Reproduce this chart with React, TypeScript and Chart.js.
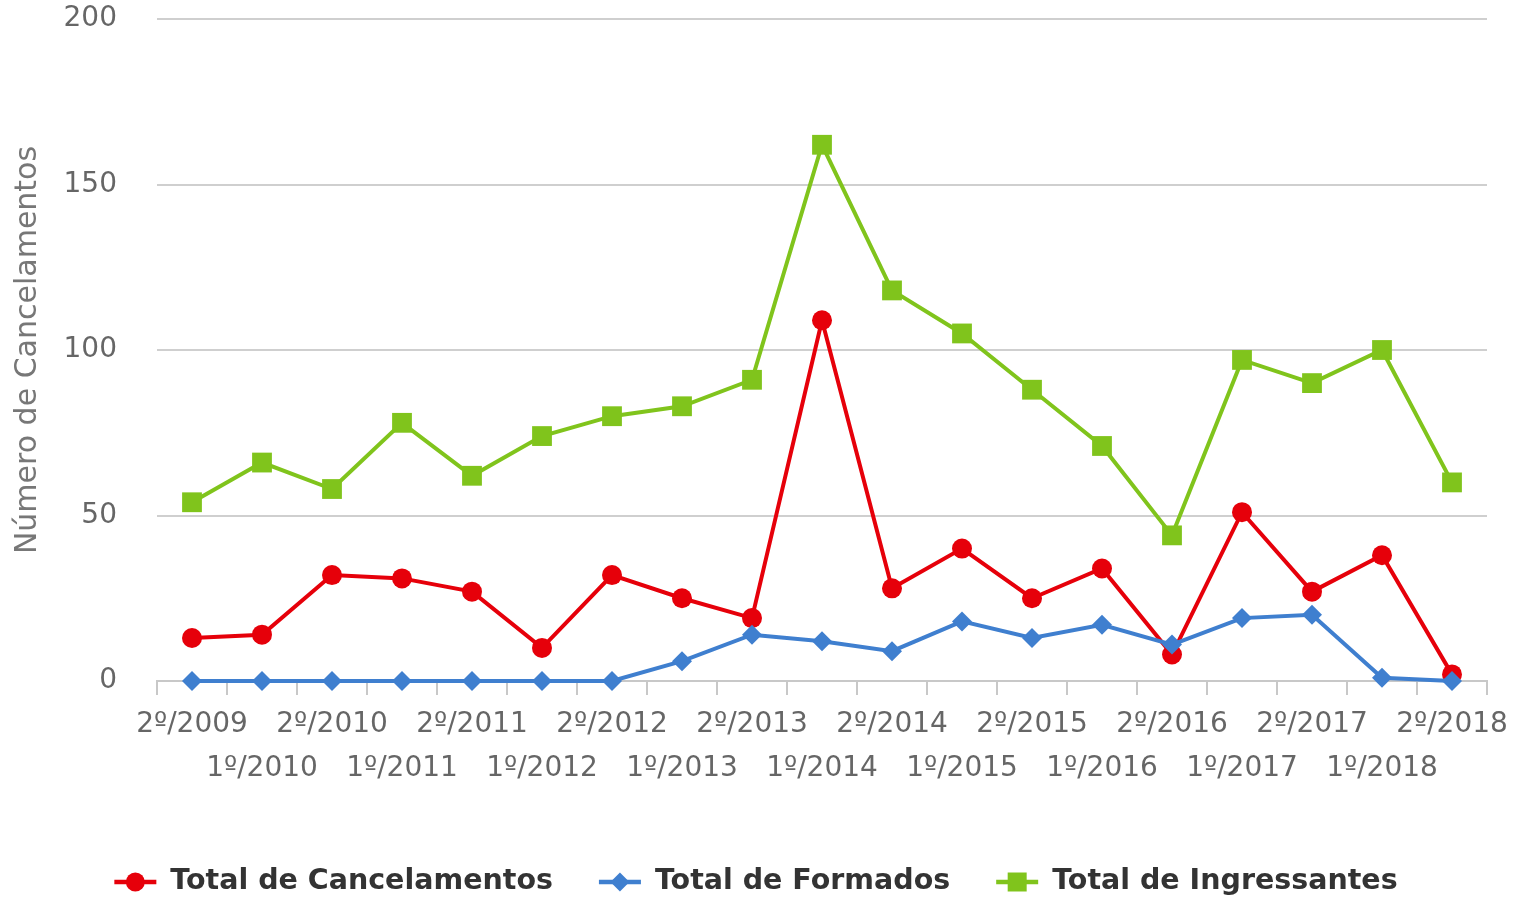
import React, { useEffect, useRef } from 'react';
import { Chart, registerables } from 'chart.js';

Chart.register(...registerables);

const categories = [
  '2º/2009', '1º/2010', '2º/2010', '1º/2011', '2º/2011', '1º/2012', '2º/2012',
  '1º/2013', '2º/2013', '1º/2014', '2º/2014', '1º/2015', '2º/2015', '1º/2016',
  '2º/2016', '1º/2017', '2º/2017', '1º/2018', '2º/2018',
];
const cancelamentos = [13, 14, 32, 31, 27, 10, 32, 25, 19, 109, 28, 40, 25, 34, 8, 51, 27, 38, 2];
const formados = [0, 0, 0, 0, 0, 0, 0, 6, 14, 12, 9, 18, 13, 17, 11, 19, 20, 1, 0];
const ingressantes = [54, 66, 58, 78, 62, 74, 80, 83, 91, 162, 118, 105, 88, 71, 44, 97, 90, 100, 60];
const yMin = 0;
const yMax = 200;
const yStep = 50;
const yTitle = 'Número de Cancelamentos';

const RED = '#e6000a';
const BLUE = '#3f7fcf';
const GREEN = '#80c41c';
const FONT = "'DejaVu Sans', sans-serif";

const series = [
  { label: 'Total de Cancelamentos', data: cancelamentos, color: RED, style: 'circle', radius: 10, order: 3 },
  { label: 'Total de Formados', data: formados, color: BLUE, style: 'rectRot', radius: 10, order: 2 },
  { label: 'Total de Ingressantes', data: ingressantes, color: GREEN, style: 'rect', radius: 14, order: 1 },
];

const legendPlugin = {
  id: 'customLegend',
  afterDraw(chart: any) {
    const ctx = chart.ctx;
    ctx.save();
    ctx.font = `bold 28.5px ${FONT}`;
    const symW = 42;
    const symGap = 14;
    const itemGap = 46;
    const widths = series.map((s) => symW + symGap + ctx.measureText(s.label).width);
    const total = widths.reduce((a, b) => a + b, 0) + itemGap * (series.length - 1);
    let x = 756 - total / 2;
    const y = 882;
    series.forEach((s, i) => {
      ctx.strokeStyle = s.color;
      ctx.lineWidth = 4.5;
      ctx.beginPath();
      ctx.moveTo(x, y);
      ctx.lineTo(x + symW, y);
      ctx.stroke();
      ctx.fillStyle = s.color;
      const cx = x + symW / 2;
      ctx.beginPath();
      if (s.style === 'circle') {
        ctx.arc(cx, y, 9.5, 0, Math.PI * 2);
      } else if (s.style === 'rectRot') {
        ctx.moveTo(cx, y - 9.5);
        ctx.lineTo(cx + 9.5, y);
        ctx.lineTo(cx, y + 9.5);
        ctx.lineTo(cx - 9.5, y);
        ctx.closePath();
      } else {
        ctx.rect(cx - 9.5, y - 9.5, 19, 19);
      }
      ctx.fill();
      ctx.fillStyle = '#333333';
      ctx.textAlign = 'left';
      ctx.textBaseline = 'middle';
      ctx.fillText(s.label, x + symW + symGap, y);
      x += widths[i] + itemGap;
    });
    ctx.restore();
  },
};

export default function App() {
  const ref = useRef<HTMLCanvasElement | null>(null);

  useEffect(() => {
    document.body.style.margin = '0';
    const canvas = ref.current;
    if (!canvas) return;
    const chart = new Chart(canvas, {
      type: 'line',
      data: {
        labels: categories,
        datasets: series.map((s) => ({
          label: s.label,
          data: s.data,
          borderColor: s.color,
          backgroundColor: s.color,
          pointBackgroundColor: s.color,
          pointBorderColor: s.color,
          pointBorderWidth: 0,
          pointStyle: s.style as any,
          pointRadius: s.radius,
          pointHoverRadius: s.radius,
          borderWidth: 4,
          tension: 0,
          fill: false,
          order: s.order,
          clip: false as any,
        })),
      },
      options: {
        responsive: false,
        animation: false,
        layout: { padding: { left: 0, right: 32, top: 19, bottom: 99 } },
        plugins: {
          legend: { display: false },
          tooltip: { enabled: false },
        },
        scales: {
          x: {
            type: 'category',
            offset: true,
            grid: {
              display: true,
              offset: true,
              drawOnChartArea: false,
              drawTicks: true,
              tickLength: 14,
              color: '#c8c8c8',
              lineWidth: 2,
            },
            border: { display: true, color: '#c8c8c8', width: 2 },
            ticks: {
              autoSkip: false,
              maxRotation: 0,
              minRotation: 0,
              padding: 7,
              color: '#666666',
              font: { family: FONT, size: 28, lineHeight: 1.6 },
              callback: (_v: any, i: number) => (i % 2 === 0 ? categories[i] : ['', categories[i]]),
            },
            afterFit: (s: any) => {
              s.height = 120;
            },
          },
          y: {
            min: yMin,
            max: yMax,
            grid: {
              color: '#cfcfcf',
              lineWidth: 2,
              drawTicks: true,
              tickLength: 40,
              tickColor: 'rgba(0,0,0,0)',
            },
            border: { display: false },
            ticks: {
              stepSize: yStep,
              padding: 0,
              color: '#666666',
              font: { family: FONT, size: 28 },
            },
            title: {
              display: true,
              text: yTitle,
              color: '#777777',
              font: { family: FONT, size: 30 },
              padding: { top: 10, bottom: 0 },
            },
            afterFit: (s: any) => {
              s.width = 157;
            },
          },
        },
      },
      plugins: [legendPlugin],
    });
    return () => chart.destroy();
  }, []);

  return (
    <div style={{ width: 1519, height: 900, background: '#ffffff' }}>
      <canvas ref={ref} width={1519} height={900} />
    </div>
  );
}
